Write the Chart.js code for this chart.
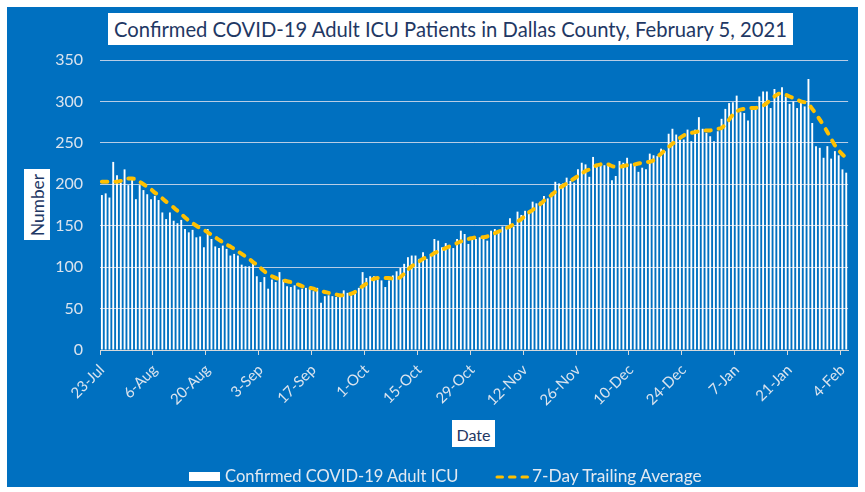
<!DOCTYPE html>
<html lang="en">
<head>
  <meta charset="UTF-8">
  <title>Confirmed COVID-19 Adult ICU Patients in Dallas County</title>
  <script src="https://cdn.jsdelivr.net/npm/chart.js"></script>
  <style>
    body {
      margin: 0;
      background: #fff;
      font-family: Lato, "Liberation Sans", sans-serif;
    }

    #wrap {
      position: relative;
      width: 865px;
      height: 492px;
      overflow: hidden;
    }

    #bg {
      position: absolute;
      left: 7px;
      top: 7px;
      width: 851px;
      height: 480px;
      background: #0070c0;
    }

    canvas {
      position: absolute;
      left: 0;
      top: 0;
    }

    .box {
      position: absolute;
      background: #fff;
      color: #1f3864;
      white-space: nowrap;
    }

    .box span {
      position: absolute;
      left: 50%;
      top: 50%;
      transform: translate(-50%, -50%);
      white-space: nowrap;
    }

    #title { left: 108px; top: 13px; width: 685px; height: 32px; font-size: 20px; }
    #ytitle { left: 24px; top: 169px; width: 26px; height: 71px; font-size: 17px; }
    #ytitle span { transform: translate(-50%, -50%) rotate(-90deg); }
    #xtitle { left: 452px; top: 420px; width: 43px; height: 27px; font-size: 17px; }

    .legtxt {
      position: absolute;
      top: 465px;
      line-height: 22px;
      font-size: 17px;
      color: #e2e9f1;
      white-space: nowrap;
    }
  </style>
</head>
<body>
  <div id="wrap">
    <div id="bg"></div>
    <canvas id="icuChart" width="865" height="492"></canvas>
    <div class="box" id="title"><span data-w="673">Confirmed COVID-19 Adult ICU Patients in Dallas County, February 5, 2021</span></div>
    <div class="box" id="ytitle"><span data-w="62">Number</span></div>
    <div class="box" id="xtitle"><span data-w="34">Date</span></div>

    <div style="position:absolute;left:189px;top:472px;width:31px;height:9px;background:#fff"></div>
    <span class="legtxt" id="leg1" style="left:225px" data-w="234">Confirmed COVID-19 Adult ICU</span>
    <svg style="position:absolute;left:493px;top:471px" width="40" height="12">
      <line x1="4" y1="6" x2="36" y2="6" stroke="#ffc000" stroke-width="3" stroke-dasharray="5.5 7" stroke-linecap="round"/>
    </svg>
    <span class="legtxt" id="leg2" style="left:532px" data-w="170">7-Day Trailing Average</span>
  </div>

  <script>
    // first day shown and the dates printed under the axis
    const startDate = Date.UTC(2020, 6, 23);
    const dayCount = 198;
    const monthNames = ["Jan", "Feb", "Mar", "Apr", "May", "Jun", "Jul", "Aug", "Sep", "Oct", "Nov", "Dec"];
    const tickLabels = ["23-Jul", "6-Aug", "20-Aug", "3-Sep", "17-Sep", "1-Oct", "15-Oct", "29-Oct",
      "12-Nov", "26-Nov", "10-Dec", "24-Dec", "7-Jan", "21-Jan", "4-Feb"];

    // daily confirmed adult ICU patients, 23-Jul to 5-Feb
    const icuPatients = [
      187, 189, 184, 227, 211, 202, 218, 199, 206, 182, 199, 193, 188, 182, 186, 181, 166, 158, 166, 156,
      153, 157, 146, 142, 145, 136, 137, 124, 146, 134, 125,
      123, 126, 122, 114, 116, 114, 103, 101, 101, 106, 89, 82, 88, 74, 85, 82, 94, 85, 77, 76,
      78, 73, 74, 75, 74, 71, 75, 57, 65, 66, 65, 64, 66, 72,
      69, 66, 72, 75, 94, 87, 89, 89, 85, 84, 76, 84, 90, 95, 99, 104, 112, 114, 114, 110,
      118, 110, 116, 134, 132, 124, 129, 126, 123, 134, 144, 140,
      128, 134, 134, 136, 137, 132, 144, 146, 144, 149, 149, 159, 149, 167, 163, 168, 168, 179, 177, 179,
      186, 183, 190, 203, 201, 201, 208, 204, 202, 218, 226, 224,
      209, 233, 224, 225, 223, 223, 205, 210, 228, 226, 232, 225, 223, 215, 220, 218, 237, 235, 234, 243,
      240, 261, 267, 260, 256, 254, 266, 252, 266, 281, 267, 262, 258, 252,
      264, 279, 291, 298, 299, 307, 287, 286, 277, 290, 291, 306, 312, 312, 292, 315, 311, 317, 306, 297,
      300, 292, 299, 294, 327, 274, 246, 244, 232, 246, 231, 240, 235, 218, 214
    ];

    // 7-day trailing average as drawn
    const trailingAvg = [
      203, 203, 203, 203, 203, 204, 206, 207, 207, 206,
      203, 200, 197, 194, 190, 187, 183, 179, 176, 172,
      168, 164, 160, 156, 153, 150, 147, 145, 142, 139,
      136, 133, 130, 127, 125, 122, 119, 116, 113, 110,
      106, 103, 99, 95, 91, 89, 87, 85, 84, 83,
      82, 80, 79, 77, 76, 75, 74, 72, 71, 70,
      69, 68, 67, 66, 66, 67, 68, 70, 74, 77,
      80, 84, 86, 87, 87, 87, 87, 86, 86, 88,
      92, 97, 101, 104, 107, 110, 112, 114, 117, 119,
      121, 123, 125, 127, 129, 131, 132, 134, 135, 136,
      136, 136, 137, 139, 141, 143, 145, 147, 149, 152,
      155, 158, 162, 166, 169, 173, 176, 180, 184, 187,
      191, 195, 198, 201, 204, 207, 210, 213, 216, 218,
      221, 223, 224, 225, 224, 222, 221, 221, 222, 223,
      223, 224, 225, 226, 227, 227, 229, 233, 237, 241,
      245, 249, 252, 256, 259, 261, 262, 263, 264, 265,
      265, 265, 266, 267, 268, 272, 278, 284, 288, 290,
      291, 292, 292, 292, 293, 295, 298, 302, 306, 309,
      310, 308, 306, 304, 302, 300, 299, 297, 291, 285,
      278, 271, 263, 255, 247, 241, 236, 232
    ];

    const days = [];
    for (let i = 0; i < dayCount; i++) {
      const d = new Date(startDate + i * 86400000);
      days.push(d.getUTCDate() + "-" + monthNames[d.getUTCMonth()]);
    }

    // size the html labels to the widths seen in the original
    document.querySelectorAll("[data-w]").forEach(el => {
      const target = parseFloat(el.dataset.w);
      let size = parseFloat(getComputedStyle(el).fontSize);
      for (let k = 0; k < 3; k++) {
        const w = el.offsetWidth;
        if (!w) break;
        size = size * target / w;
        el.style.fontSize = size + "px";
      }
    });

    const lightText = "#dbe4ee";

    new Chart(document.getElementById("icuChart"), {
      type: "bar",
      data: {
        labels: days,
        datasets: [
          {
            type: "line",
            label: "7-Day Trailing Average",
            data: trailingAvg,
            borderColor: "#ffc000",
            borderWidth: 4,
            borderDash: [5.5, 8],
            borderCapStyle: "round",
            pointRadius: 0,
            fill: false,
            tension: 0.2,
            order: 0
          },
          {
            label: "Confirmed COVID-19 Adult ICU",
            data: icuPatients,
            backgroundColor: "#ffffff",
            barPercentage: 0.5,
            categoryPercentage: 1,
            order: 1
          }
        ]
      },
      options: {
        responsive: false,
        animation: false,
        layout: { padding: { left: 0, top: 60, right: 15, bottom: 0 } },
        plugins: {
          legend: { display: false },
          tooltip: { enabled: false }
        },
        scales: {
          x: {
            offset: true,
            grid: {
              offset: true,
              drawOnChartArea: false,
              drawTicks: true,
              tickLength: 5,
              color: c => (c.index % 14 === 0 ? "#d9d9d9" : "rgba(0,0,0,0)")
            },
            border: { display: true, color: "#d9d9d9", width: 1 },
            ticks: {
              autoSkip: false,
              minRotation: 45,
              maxRotation: 45,
              padding: 6,
              color: lightText,
              font: { family: "Lato", size: 15 },
              callback: (v, i) => (tickLabels.includes(days[i]) ? days[i] : "")
            },
            afterFit: s => { s.height = 142; }
          },
          y: {
            min: 0,
            max: 350,
            ticks: {
              stepSize: 50,
              padding: 17,
              color: lightText,
              font: { family: "Lato", size: 16 }
            },
            grid: { color: "#b8cde6", drawTicks: false },
            border: { display: false },
            afterFit: s => { s.width = 100; }
          }
        }
      }
    });
  </script>
</body>
</html>
